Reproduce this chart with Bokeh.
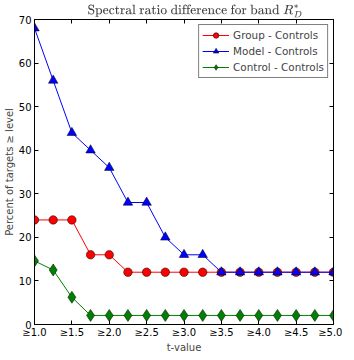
from bokeh.plotting import figure
from bokeh.models import FixedTicker, LinearAxis, Legend, LegendItem, Range1d, CustomJSTickFormatter
from bokeh.embed import file_html
from bokeh.resources import INLINE

t_values = [1.0, 1.25, 1.5, 1.75, 2.0, 2.25, 2.5, 2.75, 3.0, 3.25, 3.5, 3.75, 4.0, 4.25, 4.5, 4.75, 5.0]
group_controls = [24, 24, 24, 16, 16, 12, 12, 12, 12, 12, 12, 12, 12, 12, 12, 12, 12]
model_controls = [68, 56, 44, 40, 36, 28, 28, 20, 16, 16, 12, 12, 12, 12, 12, 12, 12]
control_controls = [14.6, 12.5, 6.25, 2.08, 2.08, 2.08, 2.08, 2.08, 2.08, 2.08, 2.08, 2.08, 2.08, 2.08, 2.08, 2.08, 2.08]

x_ticks = [1.0, 1.5, 2.0, 2.5, 3.0, 3.5, 4.0, 4.5, 5.0]
x_tick_labels = ["≥1.0", "≥1.5", "≥2.0", "≥2.5", "≥3.0", "≥3.5", "≥4.0", "≥4.5", "≥5.0"]
y_ticks = [0, 10, 20, 30, 40, 50, 60, 70]

FONT = "DejaVu Sans"

p = figure(frame_width=299, frame_height=305, output_backend="svg", toolbar_location=None,
           x_range=Range1d(1.0, 5.0), y_range=Range1d(0, 70),
           min_border_left=30, min_border_right=9, min_border_top=2, min_border_bottom=2)
p.title.text = r"$$\text{Spectral ratio difference for band }R_D^*$$"
p.title.align = "left"
p.title.offset = 53
p.title.text_font = FONT
p.title.text_font_size = "10.2px"
p.title.text_font_style = "normal"
p.title.standoff = 4

p.xgrid.visible = False
p.ygrid.visible = False
p.outline_line_color = "black"
p.outline_line_width = 1

def style_axis(ax, labels=True):
    ax.major_tick_in = 4
    ax.major_tick_out = 0
    ax.minor_tick_line_color = None
    ax.axis_line_color = "black"
    ax.major_tick_line_color = "black"
    ax.major_label_text_font = FONT
    ax.major_label_text_font_size = "10px" if labels else "1px"
    ax.major_label_text_color = "black"
    ax.major_label_standoff = 2 if labels else 0
    ax.axis_label_text_font = FONT
    ax.axis_label_text_font_size = "10px"
    ax.axis_label_text_font_style = "normal"
    ax.axis_label_standoff = 1
    if not labels:
        ax.formatter = CustomJSTickFormatter(code="return ''")

p.xaxis.ticker = FixedTicker(ticks=x_ticks)
p.yaxis.ticker = FixedTicker(ticks=y_ticks)
p.xaxis.major_label_overrides = {k: v for k, v in zip(x_ticks, x_tick_labels)}
p.xaxis.axis_label = "t-value"
p.yaxis.axis_label = "Percent of targets ≥ level"
style_axis(p.xaxis[0])
style_axis(p.yaxis[0])
p.yaxis.major_label_standoff = 3

top = LinearAxis(ticker=FixedTicker(ticks=x_ticks))
right = LinearAxis(ticker=FixedTicker(ticks=y_ticks))
style_axis(top, labels=False)
style_axis(right, labels=False)
p.add_layout(top, "above")
p.add_layout(right, "right")

r1l = p.line(t_values, group_controls, line_color="#ff0000", line_width=1)
r1m = p.scatter(t_values, group_controls, marker="circle", size=8.5,
                fill_color="#ff0000", line_color="black", line_width=0.5)
r2l = p.line(t_values, model_controls, line_color="#0000ff", line_width=1)
r2m = p.scatter(t_values, model_controls, marker="triangle", size=9.5,
                fill_color="#0000ff", line_color="black", line_width=0.5)
r3l = p.line(t_values, control_controls, line_color="#008000", line_width=1)
r3m = p.scatter(t_values, control_controls, marker="diamond", size=12,
                fill_color="#008000", line_color="black", line_width=0.5)

legend = Legend(items=[
    LegendItem(label="Group - Controls", renderers=[r1l, r1m]),
    LegendItem(label="Model - Controls", renderers=[r2l, r2m]),
    LegendItem(label="Control - Controls", renderers=[r3l, r3m]),
], location="top_right")
legend.label_text_font = FONT
legend.label_text_font_size = "10.4px"
legend.border_line_color = "black"
legend.border_line_width = 1
legend.glyph_width = 27
legend.glyph_height = 14
legend.label_height = 14
legend.spacing = 2
legend.padding = 3
legend.margin = 5
legend.label_standoff = 4
legend.background_fill_alpha = 1
p.add_layout(legend, "center")

open("out.html", "w").write(file_html(p, INLINE))
